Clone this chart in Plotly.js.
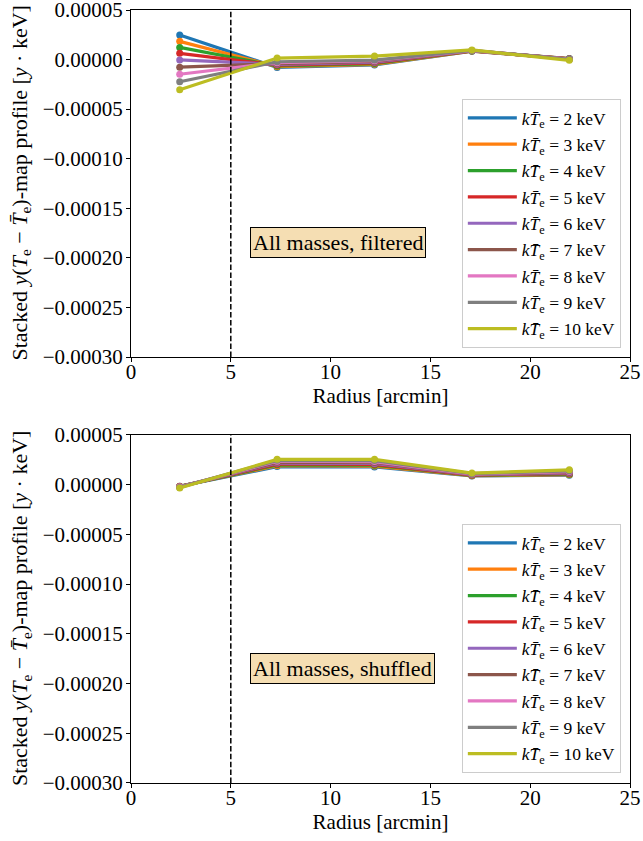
<!DOCTYPE html>
<html>
<head>
<meta charset="utf-8">
<script src="https://cdn.plot.ly/plotly-3.0.1.min.js"></script>
<style>
html,body{margin:0;padding:0;background:#fff;}
#chart{width:643px;height:841px;}
</style>
</head>
<body>
<div id="chart"></div>
<script>
// Radius bin centres [arcmin]
const radius = [2.44, 7.32, 12.2, 17.08, 21.96];
const temperatures = [2, 3, 4, 5, 6, 7, 8, 9, 10];

// Top panel: All masses, filtered
const filtered_kT2  = [ 2.48e-5, -0.80e-5, -0.55e-5, 0.85e-5,  0.10e-5];
const filtered_kT3  = [ 1.84e-5, -0.72e-5, -0.48e-5, 0.86e-5,  0.09e-5];
const filtered_kT4  = [ 1.23e-5, -0.64e-5, -0.40e-5, 0.87e-5,  0.08e-5];
const filtered_kT5  = [ 0.63e-5, -0.56e-5, -0.33e-5, 0.88e-5,  0.07e-5];
const filtered_kT6  = [-0.04e-5, -0.48e-5, -0.26e-5, 0.89e-5,  0.06e-5];
const filtered_kT7  = [-0.77e-5, -0.40e-5, -0.19e-5, 0.90e-5,  0.05e-5];
const filtered_kT8  = [-1.48e-5, -0.32e-5, -0.12e-5, 0.91e-5,  0.04e-5];
const filtered_kT9  = [-2.24e-5, -0.22e-5, -0.05e-5, 0.92e-5,  0.03e-5];
const filtered_kT10 = [-3.04e-5,  0.15e-5,  0.35e-5, 0.97e-5, -0.08e-5];

// Bottom panel: All masses, shuffled
const shuffled_kT2  = [-0.15e-5, 1.82e-5, 1.78e-5, 0.88e-5, 0.95e-5];
const shuffled_kT3  = [-0.16e-5, 1.91e-5, 1.87e-5, 0.91e-5, 1.00e-5];
const shuffled_kT4  = [-0.17e-5, 2.00e-5, 1.96e-5, 0.94e-5, 1.06e-5];
const shuffled_kT5  = [-0.18e-5, 2.09e-5, 2.05e-5, 0.97e-5, 1.12e-5];
const shuffled_kT6  = [-0.20e-5, 2.18e-5, 2.14e-5, 1.00e-5, 1.18e-5];
const shuffled_kT7  = [-0.22e-5, 2.27e-5, 2.23e-5, 1.03e-5, 1.25e-5];
const shuffled_kT8  = [-0.24e-5, 2.36e-5, 2.33e-5, 1.07e-5, 1.32e-5];
const shuffled_kT9  = [-0.27e-5, 2.45e-5, 2.43e-5, 1.11e-5, 1.40e-5];
const shuffled_kT10 = [-0.33e-5, 2.55e-5, 2.55e-5, 1.17e-5, 1.50e-5];

const filteredSeries = [filtered_kT2, filtered_kT3, filtered_kT4, filtered_kT5, filtered_kT6, filtered_kT7, filtered_kT8, filtered_kT9, filtered_kT10];
const shuffledSeries = [shuffled_kT2, shuffled_kT3, shuffled_kT4, shuffled_kT5, shuffled_kT6, shuffled_kT7, shuffled_kT8, shuffled_kT9, shuffled_kT10];

const yTickVals = [0.00005, 0, -0.00005, -0.0001, -0.00015, -0.0002, -0.00025, -0.0003];
const xTickVals = [0, 5, 10, 15, 20, 25];

const colors = ['#1f77b4','#ff7f0e','#2ca02c','#d62728','#9467bd','#8c564b','#e377c2','#7f7f7f','#bcbd22'];
const FONT = "Liberation Serif";

function label(t){ return '<i>k</i><i>T\u0304</i><sub>e</sub> = ' + t + ' keV'; }

const traces = [];
function addPanel(series, xa, ya, legendName, prefix){
  series.forEach((vals, i) => {
    const grp = prefix + i;
    traces.push({
      x: radius, y: vals, xaxis: xa, yaxis: ya, type: 'scatter', mode: 'lines',
      line: {color: colors[i], width: 3.2}, name: label(temperatures[i]),
      legend: legendName, legendgroup: grp, showlegend: true, hoverinfo: 'skip'
    });
    traces.push({
      x: radius, y: vals, xaxis: xa, yaxis: ya, type: 'scatter', mode: 'markers',
      marker: {color: colors[i], size: 7}, legend: legendName, legendgroup: grp,
      showlegend: false, hoverinfo: 'skip'
    });
  });
}
addPanel(filteredSeries, 'x', 'y', 'legend', 'f');
addPanel(shuffledSeries, 'x2', 'y2', 'legend2', 's');

const xCommon = {
  range: [0, 25], tickmode: 'array', tickvals: xTickVals, ticks: 'outside', ticklen: 4, tickcolor: '#000',
  showline: true, mirror: true, linecolor: '#000', linewidth: 1, showgrid: false, zeroline: false,
  tickfont: {family: FONT, size: 21, color: '#000'}, ticklabelstandoff: -8, ticklabeloverflow: 'allow',
  title: {text: 'Radius [arcmin]', font: {family: FONT, size: 21, color: '#000'}, standoff: 2}
};
const yTitle = 'Stacked <i>y</i>(<i>T</i><sub>e</sub> \u2212 <i>T\u0304</i><sub>e</sub>)-map profile [<i>y</i> \u00b7 keV]';
const yCommon = {
  range: [-0.0003000001, 0.0000500001], tickmode: 'array', tickvals: yTickVals, tickformat: '.5f', ticks: 'outside', ticklen: 4, tickcolor: '#000',
  showline: true, mirror: true, linecolor: '#000', linewidth: 1, showgrid: false, zeroline: false,
  tickfont: {family: FONT, size: 21, color: '#000'}, ticklabelstandoff: -1, ticklabeloverflow: 'allow'
};

const legendCommon = {
  xanchor: 'left', yanchor: 'top', bgcolor: 'rgba(255,255,255,0.8)', bordercolor: '#cccccc', borderwidth: 1,
  font: {family: FONT, size: 17.5, color: '#000'}, tracegroupgap: 0.6, traceorder: 'grouped', itemwidth: 49
};

const boxFont = {family: FONT, size: 22, color: '#000'};
const yTitleFont = {family: FONT, size: 22, color: '#000'};
const layout = {
  width: 643, height: 841,
  margin: {l: 131, r: 13, t: 10, b: 58},
  paper_bgcolor: '#fff', plot_bgcolor: '#fff',
  font: {family: FONT, color: '#000'},
  showlegend: true,
  xaxis: Object.assign({}, xCommon, {anchor: 'y', domain: [0, 1]}),
  yaxis: Object.assign({}, yCommon, {anchor: 'x', domain: [0.5511, 1]}),
  xaxis2: Object.assign({}, xCommon, {anchor: 'y2', domain: [0, 1]}),
  yaxis2: Object.assign({}, yCommon, {anchor: 'x2', domain: [0, 0.4502]}),
  legend: Object.assign({}, legendCommon, {x: 0.663, y: 0.8849}),
  legend2: Object.assign({}, legendCommon, {x: 0.663, y: 0.3351}),
  shapes: [
    {type: 'line', xref: 'x', yref: 'y domain', x0: 5, x1: 5, y0: 0, y1: 1, layer: 'above',
     line: {color: '#000', width: 1.5, dash: '5.5px,2.4px'}},
    {type: 'line', xref: 'x2', yref: 'y2 domain', x0: 5, x1: 5, y0: 0, y1: 1, layer: 'above',
     line: {color: '#000', width: 1.5, dash: '5.5px,2.4px'}}
  ],
  annotations: [
    {xref: 'paper', yref: 'y domain', x: -0.2204, y: 0.5, xanchor: 'center', yanchor: 'middle', textangle: -90,
     showarrow: false, text: yTitle, font: yTitleFont},
    {xref: 'paper', yref: 'y2 domain', x: -0.2204, y: 0.5, xanchor: 'center', yanchor: 'middle', textangle: -90,
     showarrow: false, text: yTitle, font: yTitleFont},
    {xref: 'x', yref: 'y', x: 5.95, y: -0.000185, xanchor: 'left', yanchor: 'middle', showarrow: false,
     text: 'All masses, filtered', font: boxFont,
     bgcolor: '#f5deb3', bordercolor: '#000', borderwidth: 1, borderpad: 2},
    {xref: 'x2', yref: 'y2', x: 5.95, y: -0.000185, xanchor: 'left', yanchor: 'middle', showarrow: false,
     text: 'All masses, shuffled', font: boxFont,
     bgcolor: '#f5deb3', bordercolor: '#000', borderwidth: 1, borderpad: 2}
  ]
};

Plotly.newPlot('chart', traces, layout, {staticPlot: true, displayModeBar: false});
</script>
</body>
</html>
